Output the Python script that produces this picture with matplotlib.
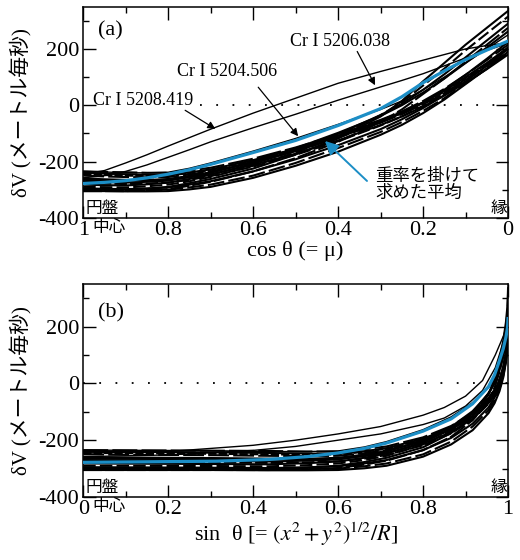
"""
  velocity shift vs. disk position: (a) against mu = cos theta, (b) against sin theta
"""
import numpy as np
import matplotlib
matplotlib.use("Agg")
import matplotlib.pyplot as plt
from matplotlib.ticker import MultipleLocator

plt.rcParams["font.family"] = ["Liberation Serif", "Noto Sans CJK JP", "DejaVu Sans"]
plt.rcParams["mathtext.fontset"] = "stix"
plt.rcParams["axes.unicode_minus"] = False

# sample points along the disk, mu = cos(theta)
MU = [1.0, 0.95, 0.9, 0.85, 0.8, 0.75, 0.7, 0.6, 0.5, 0.4, 0.3, 0.25, 0.2, 0.15, 0.1, 0.05, 0.0]

# labelled lines (m/s), panel (a)
V_5208 = [-245, -232, -205, -176, -145, -115, -85, -28, 25, 78, 120, 140, 160, 180, 200, 212, 222]
V_5206 = [-258, -250, -235, -212, -185, -158, -130, -80, -32, 18, 65, 88, 112, 140, 168, 195, 220]
V_5204 = [-235, -237, -240, -240, -238, -224, -205, -163, -118, -68, -15, 15, 55, 100, 150, 200, 250]
# weighted mean
V_MEAN = [-278, -274, -268, -258, -245, -229, -210, -168, -125, -72, -12, 30, 80, 122, 162, 196, 228]

# the two upper lines as they are drawn in panel (b)
SIN_B = [0.0, 0.2, 0.4, 0.5, 0.6, 0.7, 0.8, 0.85, 0.9, 0.94, 0.97, 0.99, 1.0]
V_5208_B = [-245, -240, -218, -200, -178, -152, -112, -85, -45, 10, 100, 170, 222]
V_5206_B = [-258, -252, -236, -222, -200, -178, -145, -122, -80, -25, 55, 150, 220]

# the rest of the lines (the dark bundle)
V_OTHERS = [
  [-305, -305, -306, -306, -305, -299, -290, -258, -215, -165, -105, -70, -28, 20, 75, 130, 190],
  [-300, -301, -302, -301, -300, -292, -282, -250, -205, -152, -95, -60, -20, 25, 78, 130, 185],
  [-295, -297, -298, -296, -292, -282, -270, -235, -192, -142, -85, -50, -10, 35, 85, 140, 200],
  [-275, -278, -280, -278, -275, -265, -252, -218, -176, -128, -72, -40, -2, 42, 92, 145, 205],
  [-260, -263, -265, -266, -265, -256, -245, -212, -172, -125, -70, -40, -5, 35, 80, 128, 180],
  [-250, -253, -255, -256, -255, -246, -235, -202, -162, -115, -62, -32, 3, 42, 90, 138, 190],
  [-265, -267, -268, -266, -262, -251, -238, -204, -163, -115, -60, -28, 10, 55, 108, 165, 225],
  [-245, -248, -250, -251, -250, -241, -230, -197, -158, -112, -58, -28, 8, 48, 97, 148, 200],
  [-240, -243, -245, -247, -248, -239, -228, -195, -155, -108, -55, -25, 10, 50, 100, 150, 205],
  [-235, -237, -238, -240, -240, -232, -222, -190, -150, -104, -52, -22, 15, 58, 108, 160, 215],
  [-300, -300, -300, -296, -290, -277, -262, -225, -175, -118, -40, 15, 85, 150, 215, 275, 335],
  [-290, -291, -292, -288, -282, -270, -255, -215, -168, -110, -35, 10, 70, 130, 195, 255, 315],
  [-282, -284, -285, -281, -275, -262, -247, -208, -160, -102, -35, 5, 55, 110, 170, 230, 290],
  [-305, -305, -305, -302, -298, -286, -272, -235, -188, -130, -60, -15, 40, 95, 155, 215, 275],
  [-270, -273, -275, -272, -268, -255, -240, -200, -153, -98, -38, 0, 45, 95, 150, 205, 262],
]
OTHER_STYLES = ["-", (0, (8, 2)), "-", (0, (6, 1.5)), "-", (0, (10, 2)), "-", (0, (4, 1)),
                "-", (0, (12, 2)), "-", (0, (6, 2)), "-", (0, (9, 1.5)), "-"]

YTICKS = [-400, -200, 0, 200]
XTICKS = [0, 0.2, 0.4, 0.6, 0.8, 1]
XTICKLABELS = ["0", "0.2", "0.4", "0.6", "0.8", "1"]

BLUE = "#1c8ec6"


def draw_lines(ax, x, x_top, v_5208, v_5206):
  for v, ls in zip(V_OTHERS, OTHER_STYLES):
    ax.plot(x, v, color="black", lw=1.5, ls=ls, zorder=2)
  ax.plot(x, V_5204, color="black", lw=1.0, zorder=3)
  ax.plot(x_top, v_5206, color="black", lw=1.0, zorder=3)
  ax.plot(x_top, v_5208, color="black", lw=1.0, zorder=3)
  ax.plot(x, V_MEAN, color=BLUE, lw=2.3, zorder=5)


def style_axes(ax):
  ax.set_ylim(-400, 350)
  ax.set_yticks(YTICKS)
  ax.yaxis.set_minor_locator(MultipleLocator(100))
  ax.xaxis.set_minor_locator(MultipleLocator(0.1))
  ax.set_xticks(XTICKS, labels=XTICKLABELS)
  ax.tick_params(which="both", direction="in", top=True, right=True, width=1.0, labelsize=16)
  ax.tick_params(which="major", length=9)
  ax.tick_params(which="minor", length=4.5)
  ax.tick_params(axis="x", pad=2)
  ax.tick_params(axis="y", pad=3)
  for sp in ax.spines.values():
    sp.set_linewidth(1.1)
  ax.set_ylabel("δV (メートル毎秒)", fontsize=15, labelpad=4)
  # disk centre / limb marks
  ax.text(0.005, 0.006, "円盤", transform=ax.transAxes, ha="left", va="bottom", fontsize=12)
  ax.text(0.022, -0.008, "中心", transform=ax.transAxes, ha="left", va="top", fontsize=12)
  ax.text(0.997, 0.006, "縁", transform=ax.transAxes, ha="right", va="bottom", fontsize=12)


fig = plt.figure(figsize=(5.2, 5.6), dpi=100)
ax1 = fig.add_axes([0.160, 0.611, 0.817, 0.377])
ax2 = fig.add_axes([0.160, 0.1125, 0.817, 0.3805])

########################## (a) vs mu ##########################
mu = np.array(MU)
draw_lines(ax1, mu, mu, V_5208, V_5206)
ax1.axhline(0, xmin=0.275, xmax=1.0, color="black", ls=(0, (1, 8)), lw=1.3, zorder=1)
style_axes(ax1)
ax1.set_xlim(1, 0)
ax1.set_xlabel("cos θ (= μ)", fontsize=16, labelpad=1)
ax1.text(0.035, 0.886, "(a)", transform=ax1.transAxes, fontsize=16, va="center")

arrow_k = dict(arrowstyle="-|>", color="black", lw=0.9, mutation_scale=11, shrinkA=0, shrinkB=0)
ax1.text(0.976, 2, "Cr I 5208.419", fontsize=13, ha="left", va="baseline")
ax1.annotate("", xy=(0.689, -84), xytext=(0.76, -18), arrowprops=arrow_k, zorder=6)
ax1.text(0.661, 121, "Cr I 5204.506", fontsize=13, ha="center", va="center")
ax1.annotate("", xy=(0.494, -110), xytext=(0.588, 64), arrowprops=arrow_k, zorder=6)
ax1.text(0.513, 226, "Cr I 5206.038", fontsize=13, ha="left", va="center")
ax1.annotate("", xy=(0.313, 71), xytext=(0.355, 191), arrowprops=arrow_k, zorder=6)

ax1.text(0.313, -228, "重率を掛けて\n求めた平均", fontsize=12.5, ha="left", va="top", linespacing=1.0)
ax1.annotate("", xy=(0.431, -127), xytext=(0.332, -269),
             arrowprops=dict(arrowstyle="-|>", color=BLUE, lw=1.4, mutation_scale=20,
                             shrinkA=0, shrinkB=0), zorder=6)

########################## (b) vs sin theta ##########################
sin_t = np.sqrt(1.0 - mu ** 2)
draw_lines(ax2, sin_t, np.array(SIN_B), V_5208_B, V_5206_B)
ax2.axhline(0, color="black", ls=(0, (1, 8)), lw=1.3, zorder=1)
style_axes(ax2)
ax2.set_xlim(0, 1)
ax2.set_xlabel("sin  θ [= $(x^2 + y^2)^{1/2}/R$]", fontsize=16, labelpad=1)
ax2.text(0.035, 0.864, "(b)", transform=ax2.transAxes, fontsize=16, va="center")

fig.savefig("out.png", dpi=100)
